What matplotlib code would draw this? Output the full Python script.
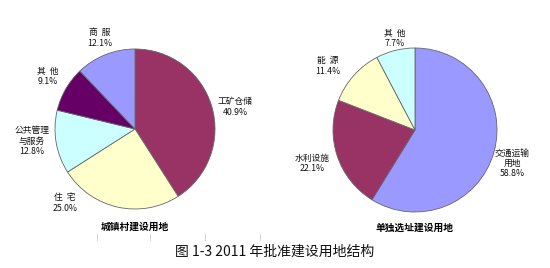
import matplotlib.pyplot as plt
from matplotlib.lines import Line2D

plt.rcParams['font.family'] = ['Noto Sans CJK SC', 'DejaVu Sans']

# 城镇村建设用地
town_labels = ['工矿仓储', '住  宅', '公共管理\n与服务', '其  他', '商  服']
town_values = [40.9, 25.0, 12.8, 9.1, 12.1]
town_colors = ['#993366', '#FFFFCC', '#CCFFFF', '#660066', '#9999FF']

# 单独选址建设用地
site_labels = ['交通运输\n用地', '水利设施', '能  源', '其  他']
site_values = [58.8, 22.1, 11.4, 7.7]
site_colors = ['#9999FF', '#993366', '#FFFFCC', '#CCFFFF']

titles = ['城镇村建设用地', '单独选址建设用地']
caption = '图 1-3 2011 年批准建设用地结构'

W, H = 550, 268
fig = plt.figure(figsize=(5.5, 2.68), dpi=100)
ax = fig.add_axes([0, 0, 1, 1])

# pixel layout (x, y from top)
pies = [
    dict(labels=town_labels, values=town_values, colors=town_colors,
         center=(135, 129), r=80,
         label_pos=[(235, 107), (65, 203), (32, 141), (48, 76), (100, 38)],
         title_pos=(135, 227)),
    dict(labels=site_labels, values=site_values, colors=site_colors,
         center=(415, 130), r=82,
         label_pos=[(512, 163), (312, 163), (328, 66), (395, 38)],
         title_pos=(415, 228)),
]

for p, title in zip(pies, titles):
    cx, cy = p['center']
    ax.pie(p['values'], colors=p['colors'], startangle=90, counterclock=False,
           center=(cx, H - cy), radius=p['r'],
           wedgeprops=dict(edgecolor='#666666', linewidth=0.6))
    for lab, val, (lx, ly) in zip(p['labels'], p['values'], p['label_pos']):
        ax.text(lx, H - ly, f'{lab}\n{val:.1f}%', ha='center', va='center',
                fontsize=6.3, linespacing=1.15, color='#111111')
    tx, ty = p['title_pos']
    ax.text(tx, H - ty, title, ha='center', va='center', fontsize=7,
            fontweight='bold', color='black')

ax.text(W / 2, H - 252, caption, ha='center', va='center', fontsize=10,
        fontweight='medium', color='#111111')

# faint table marks under the left chart
for x in [97, 150, 205, 260]:
    ax.add_line(Line2D([x, x], [H - 234, H - 240], color='#cccccc', lw=0.6))

ax.set_xlim(0, W)
ax.set_ylim(0, H)
ax.set_aspect('equal')
ax.axis('off')

fig.savefig('out.png', dpi=100)
